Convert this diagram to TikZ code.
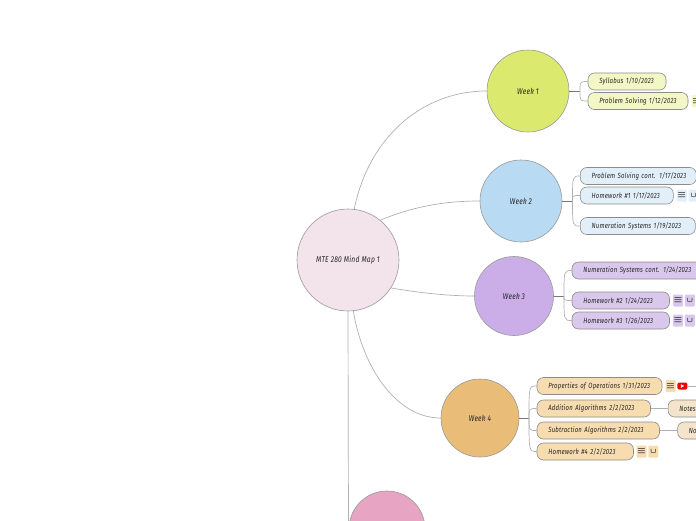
\documentclass[tikz,border=0pt]{standalone}
\usepackage{fontspec}
\setmainfont{Fira Sans}[FakeStretch=0.8,LetterSpace=3]
\usepackage{tikz}
\usetikzlibrary{positioning}
\definecolor{rootfill}{HTML}{F3E4EC}
\definecolor{wkonefill}{HTML}{DCE96F}
\definecolor{wktwofill}{HTML}{B8DAF2}
\definecolor{wkthreefill}{HTML}{CBAEE8}
\definecolor{wkfourfill}{HTML}{E9BD78}
\definecolor{wkfivefill}{HTML}{E8A5C3}
\definecolor{ponefill}{HTML}{F3F7C5}
\definecolor{ptwofill}{HTML}{E2EFF8}
\definecolor{pthreefill}{HTML}{D9C8EC}
\definecolor{pfourfill}{HTML}{F7DCB0}
\definecolor{notefill}{HTML}{F3E4CB}
\definecolor{linegray}{HTML}{B0B0B0}
\definecolor{stubgray}{HTML}{777777}
\definecolor{ytred}{HTML}{F00000}

\begin{document}
\begin{tikzpicture}[
  x=1pt,y=-1pt,
  font=\fontsize{7.5}{9}\selectfont\itshape,
  text=black!85,
  wk/.style={circle,draw=black!40,line width=.6pt,inner sep=0pt,align=center,
             font=\fontsize{8.4}{10}\selectfont\itshape},
  pill/.style={draw=black!45,line width=.6pt,rounded corners=6.5pt,minimum height=17pt,
               inner xsep=11.3pt,inner ysep=0pt,anchor=west,align=left},
  icon/.style={rounded corners=1pt,minimum width=10pt,minimum height=12pt,inner sep=0pt,
               text=black,font=\small\boldmath},
  clip icon/.style={icon,font=\scriptsize\boldmath},
  link/.style={draw=linegray,line width=.7pt},
  stub/.style={draw=stubgray,line width=.9pt},
]
  \useasboundingbox (0,0) rectangle (696,520);
  % central topic and weeks
  \node[wk,fill=rootfill,minimum size=102pt] (root) at (348,260) {MTE 280 Mind Map 1};
  \node[wk,fill=wkonefill,minimum size=82pt] (wk1) at (528,91) {Week 1};
  \node[wk,fill=wktwofill,minimum size=82pt] (wk2) at (521,201) {Week 2};
  \node[wk,fill=wkthreefill,minimum size=79pt] (wk3) at (514,296) {Week 3};
  \node[wk,fill=wkfourfill,minimum size=78pt] (wk4) at (480,418) {Week 4};
  \node[wk,fill=wkfivefill,minimum size=76pt] (wk5) at (387,529) {};
  \coordinate (off) at (348.5,530);
  \draw[link] (root.83) .. controls (368,140) and (420,91) .. (wk1.west);
  \draw[link] (root.51) .. controls (410,208) and (440,201) .. (wk2.west);
  \draw[link] (root.-33) .. controls (420,293) and (450,296) .. (wk3.west);
  \draw[link] (root.-84) .. controls (362,365) and (395,418) .. (wk4.west);
  \draw[link] (root.south) -- (off);

  % week 1
  \node[pill,fill=ponefill,text width=55.4pt] (syl) at (587.7,81.5) {Syllabus 1/10/2023};
  \node[pill,fill=ponefill,text width=77.4pt] (prob) at (587.7,101) {Problem Solving 1/12/2023};
  \node[icon,fill=ponefill,right=3pt of prob] (probn) {$\equiv$};
  \coordinate (j1) at (580,91);
  \draw[stub] (wk1.east) -- (j1);
  \foreach \p in {syl,prob} \draw[link] (j1) .. controls (j1 |- \p.west) .. (\p.west);

  % week 2
  \node[pill,fill=ptwofill,text width=93.4pt] (cont) at (580,176) {\mbox{Problem Solving cont. 1/17/2023}};
  \node[pill,fill=ptwofill,text width=70.4pt] (hwa) at (580,195.5) {Homework \#1 1/17/2023};
  \node[pill,fill=ptwofill,text width=92.4pt] (num) at (580,226) {Numeration Systems 1/19/2023};
  \node[icon,fill=ptwofill,right=3pt of hwa] (hwan) {$\equiv$};
  \node[clip icon,fill=ptwofill,right=1.5pt of hwan] (hwal) {$\cup$};
  \coordinate (j2) at (572.5,201);
  \draw[stub] (wk2.east) -- (j2);
  \foreach \p in {cont,hwa,num} \draw[link] (j2) .. controls (j2 |- \p.west) .. (\p.west);

  % week 3
  \node[pill,fill=pthreefill,text width=109.4pt] (numc) at (571.7,270.5) {Numeration Systems cont. 1/24/2023};
  \node[pill,fill=pthreefill,text width=74.9pt] (hwb) at (571.7,300.5) {Homework \#2 1/24/2023};
  \node[pill,fill=pthreefill,text width=74.9pt] (hwc) at (571.7,320.5) {Homework \#3 1/26/2023};
  \node[icon,fill=pthreefill,right=3pt of hwb] (hwbn) {$\equiv$};
  \node[clip icon,fill=pthreefill,right=1.5pt of hwbn] (hwbl) {$\cup$};
  \node[icon,fill=pthreefill,right=3pt of hwc] (hwcn) {$\equiv$};
  \node[clip icon,fill=pthreefill,right=1.5pt of hwcn] (hwcl) {$\cup$};
  \coordinate (j3) at (564,296);
  \draw[stub] (wk3.east) -- (j3);
  \foreach \p in {numc,hwb,hwc} \draw[link] (j3) .. controls (j3 |- \p.west) .. (\p.west);

  % week 4
  \node[pill,fill=pfourfill,text width=102.4pt] (prop) at (536.7,386) {Properties of Operations 1/31/2023};
  \node[pill,fill=pfourfill,text width=90.9pt] (add) at (536.7,408.5) {Addition Algorithms 2/2/2023};
  \node[pill,fill=pfourfill,text width=99.9pt] (sub) at (536.7,430.5) {Subtraction Algorithms 2/2/2023};
  \node[pill,fill=pfourfill,text width=73.9pt] (hwd) at (536.7,451.5) {Homework \#4 2/2/2023};
  \node[icon,fill=pfourfill,right=3pt of prop] (propn) {$\equiv$};
  \node[fill=ytred,rounded corners=1.5pt,minimum width=10pt,minimum height=7pt,inner sep=0pt,
        right=1.5pt of propn] (tube) {};
  \fill[white] ([xshift=-1.5pt,yshift=-1.8pt]tube.center) -- ([xshift=2pt]tube.center)
    -- ([xshift=-1.5pt,yshift=1.8pt]tube.center) -- cycle;
  \coordinate (propend) at (696,386);
  \draw[link] (tube) -- (propend);
  \node[pill,fill=notefill,text width=27.4pt,right=17pt of add] (adn) {Notes};
  \node[pill,fill=notefill,text width=27.4pt,right=17.5pt of sub] (sbn) {Notes};
  \draw[link] (add) -- (adn);
  \draw[link] (sub) -- (sbn);
  \node[icon,fill=pfourfill,right=2.5pt of hwd] (hwdn) {$\equiv$};
  \node[clip icon,fill=pfourfill,right=1.5pt of hwdn] (hwdl) {$\cup$};
  \coordinate (j4) at (529,418);
  \draw[stub] (wk4.east) -- (j4);
  \foreach \p in {prop,add,sub,hwd} \draw[link] (j4) .. controls (j4 |- \p.west) .. (\p.west);
\end{tikzpicture}
\end{document}
